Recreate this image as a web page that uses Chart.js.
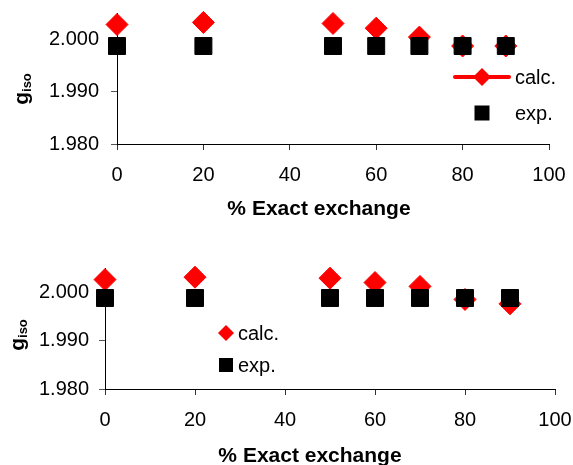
<!DOCTYPE html>
<html>
<head>
<meta charset="utf-8">
<script src="https://cdn.jsdelivr.net/npm/chart.js@4.4.0/dist/chart.umd.min.js"></script>
<style>
    body { margin: 0; background: #fff; }
    canvas { position: absolute; left: 0; }
    #c1 { top: 0; }
    #c2 { top: 235px; }
</style>
</head>
<body>
<canvas id="c1" width="573" height="235"></canvas>
<canvas id="c2" width="573" height="230"></canvas>
<script>
// % exact exchange
const exchange = [0, 20, 50, 60, 70, 80, 90];

// upper panel
const calcTop = [2.0028, 2.0032, 2.0030, 2.0021, 2.0004, 1.9987, 1.9987];
const expTop = [1.9987, 1.9987, 1.9987, 1.9987, 1.9987, 1.9987, 1.9987];

// lower panel
const calcBottom = [2.0026, 2.0031, 2.0029, 2.0020, 2.0012, 1.9985, 1.9976];
const expBottom = [1.9988, 1.9988, 1.9988, 1.9988, 1.9988, 1.9988, 1.9988];

const xTicks = [0, 20, 40, 60, 80, 100];
const yTicks = [1.980, 1.990, 2.000];

const seriesNames = ['calc.', 'exp.'];
const xTitle = '% Exact exchange';

const FONT = "'Liberation Sans', Arial, sans-serif";
const RED = '#ff0000';

function toPoints(ys) {
    return exchange.map((x, i) => ({ x: x, y: ys[i] }));
}

// no extra room for the end labels, the layout padding handles it
function noScalePadding(scale) {
    scale.paddingTop = 0;
    scale.paddingBottom = 0;
    scale.paddingLeft = 0;
    scale.paddingRight = 0;
}

// axis titles and the little legend, placed like the original figure
const decorations = {
    id: 'decorations',
    afterDraw(chart, args, opts) {
        const ctx = chart.ctx;
        ctx.save();
        ctx.fillStyle = '#000';

        // y title: g with subscript iso, rotated
        ctx.translate(opts.yTitle.x, opts.yTitle.y);
        ctx.rotate(-Math.PI / 2);
        ctx.font = 'bold 21px ' + FONT;
        const gw = ctx.measureText('g').width;
        ctx.font = 'bold 13px ' + FONT;
        const sw = ctx.measureText('iso').width;
        const start = -(gw + sw) / 2;
        ctx.textBaseline = 'alphabetic';
        ctx.textAlign = 'left';
        ctx.font = 'bold 21px ' + FONT;
        ctx.fillText('g', start, 0);
        ctx.font = 'bold 13px ' + FONT;
        ctx.fillText('iso', start + gw, 3);
        ctx.setTransform(1, 0, 0, 1, 0, 0);

        // x title
        ctx.font = 'bold 21px ' + FONT;
        ctx.textAlign = 'center';
        ctx.fillText(xTitle, opts.xTitle.x, opts.xTitle.y);

        // legend
        const lg = opts.legend;
        ctx.font = '20px ' + FONT;
        ctx.textAlign = 'left';
        ctx.textBaseline = 'middle';
        if (lg.line) {
            ctx.strokeStyle = RED;
            ctx.lineWidth = 4;
            ctx.lineCap = 'round';
            ctx.beginPath();
            ctx.moveTo(lg.line[0], lg.calc.y);
            ctx.lineTo(lg.line[1], lg.calc.y);
            ctx.stroke();
        }
        ctx.fillStyle = RED;
        ctx.beginPath();
        ctx.moveTo(lg.calc.x - lg.dr, lg.calc.y);
        ctx.lineTo(lg.calc.x, lg.calc.y - lg.dr);
        ctx.lineTo(lg.calc.x + lg.dr, lg.calc.y);
        ctx.lineTo(lg.calc.x, lg.calc.y + lg.dr);
        ctx.closePath();
        ctx.fill();
        ctx.fillStyle = '#000';
        ctx.fillRect(lg.exp.x - lg.sq / 2, lg.exp.y - lg.sq / 2, lg.sq, lg.sq);
        ctx.fillText(seriesNames[0], lg.textX, lg.calc.y + 1);
        ctx.fillText(seriesNames[1], lg.textX, lg.exp.y + 1);
        ctx.restore();
    }
};

function makeChart(id, calc, exp, layout) {
    const ctx = document.getElementById(id).getContext('2d');
    return new Chart(ctx, {
        type: 'scatter',
        data: {
            datasets: [
                {
                    label: seriesNames[0],
                    data: toPoints(calc),
                    pointStyle: 'rectRot',
                    pointRadius: 11,
                    pointBackgroundColor: RED,
                    pointBorderColor: RED,
                    pointBorderWidth: 1,
                    showLine: false,
                    clip: false,
                    order: 1,
                },
                {
                    label: seriesNames[1],
                    data: toPoints(exp),
                    pointStyle: 'rect',
                    pointRadius: 12,
                    pointBackgroundColor: '#000',
                    pointBorderColor: '#000',
                    pointBorderWidth: 1,
                    showLine: false,
                    clip: false,
                    order: 0,
                },
            ],
        },
        options: {
            responsive: false,
            animation: false,
            events: [],
            layout: { padding: layout.padding },
            plugins: {
                legend: { display: false },
                tooltip: { enabled: false },
                decorations: layout.deco,
            },
            scales: {
                x: {
                    type: 'linear',
                    min: 0,
                    max: 100,
                    afterBuildTicks: (scale) => { scale.ticks = xTicks.map((v) => ({ value: v })); },
                    afterFit: (scale) => { scale.height = layout.xHeight; noScalePadding(scale); },
                    border: { color: '#000', width: 1 },
                    grid: { drawOnChartArea: false, tickLength: 6, color: '#333' },
                    ticks: { color: '#000', padding: layout.xPad, font: { family: FONT, size: 20 } },
                },
                y: {
                    type: 'linear',
                    min: 1.98,
                    max: 2.005,
                    afterBuildTicks: (scale) => { scale.ticks = yTicks.map((v) => ({ value: v })); },
                    afterFit: (scale) => { scale.width = layout.yWidth; noScalePadding(scale); },
                    border: { color: '#000', width: 1 },
                    grid: { drawOnChartArea: false, tickLength: 6, color: '#555' },
                    ticks: {
                        color: '#000',
                        padding: layout.yPad,
                        font: { family: FONT, size: 20 },
                        callback: (v) => v.toFixed(3),
                    },
                },
            },
        },
        plugins: [decorations],
    });
}

makeChart('c1', calcTop, expTop, {
    padding: { left: 0, right: 24, top: 11, bottom: 0 },
    xHeight: 91,
    yWidth: 117,
    xPad: 13,
    yPad: 12,
    deco: {
        yTitle: { x: 28, y: 89 },
        xTitle: { x: 319, y: 215 },
        legend: {
            line: [455, 509],
            calc: { x: 482, y: 77 },
            exp: { x: 482, y: 113 },
            dr: 9,
            sq: 15,
            textX: 515,
        },
    },
});

makeChart('c2', calcBottom, expBottom, {
    padding: { left: 0, right: 18, top: 33, bottom: 0 },
    xHeight: 76,
    yWidth: 105,
    xPad: 13,
    yPad: 10,
    deco: {
        yTitle: { x: 24, y: 100 },
        xTitle: { x: 310, y: 227 },
        legend: {
            line: null,
            calc: { x: 226, y: 98 },
            exp: { x: 226, y: 130 },
            dr: 8,
            sq: 14,
            textX: 238,
        },
    },
});
</script>
</body>
</html>
